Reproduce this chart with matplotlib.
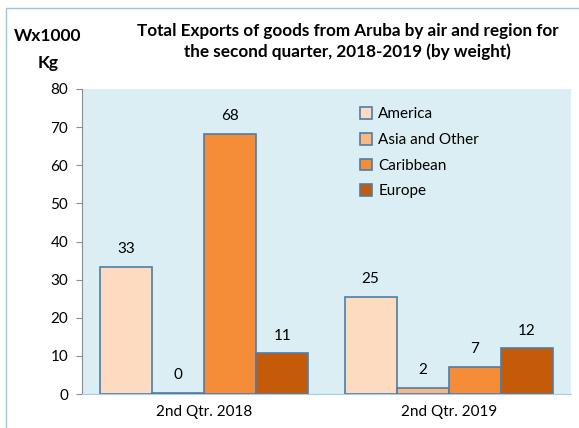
import numpy as np
import matplotlib.pyplot as plt
from matplotlib.patches import Rectangle

# data
quarters = ['2nd Qtr. 2018', '2nd Qtr. 2019']
regions = ['America', 'Asia and Other', 'Caribbean', 'Europe']
america = [33.3, 25.5]
asia_other = [0.3, 1.6]
caribbean = [68.3, 7.2]
europe = [10.7, 12.0]
labels = [['33', '25'], ['0', '2'], ['68', '7'], ['11', '12']]

colors = ['#FCDBC0', '#FAB784', '#F58D38', '#C55A09']
edge = '#4F7DA8'

plt.rcParams['font.family'] = ['Lato', 'DejaVu Sans']

fig = plt.figure(figsize=(5.79, 4.28), dpi=100)
ax = fig.add_axes([82 / 579, 1 - 394 / 428, 489 / 579, 305 / 428])
ax.set_facecolor('#DAEEF3')

# light blue frame round the figure
fig.patches.append(Rectangle((6 / 579, -0.05), 1.1, 1 - 8 / 428 + 0.05,
                             transform=fig.transFigure, fill=False,
                             edgecolor='#9DC3E6', linewidth=1))

x = np.arange(len(quarters))
w = 0.213
series = [america, asia_other, caribbean, europe]
for i, vals in enumerate(series):
    pos = x + (i - 1.5) * w
    ax.bar(pos, vals, width=w, color=colors[i], edgecolor=edge,
           linewidth=1.2, label=regions[i], zorder=3)
    for p, v, t in zip(pos, vals, labels[i]):
        ax.text(p, v + 2.8, t, ha='center', va='bottom', fontsize=11)

ax.set_xlim(-0.5, 1.5)
ax.set_ylim(0, 80)
ax.set_yticks(range(0, 81, 10))
ax.set_xticks(x)
ax.set_xticklabels(quarters, fontsize=11)
ax.tick_params(axis='y', labelsize=11, length=4, color='#8C8C8C', pad=6)
ax.tick_params(axis='x', length=0, pad=8)

for s in ['top', 'right']:
    ax.spines[s].set_visible(False)
ax.spines['left'].set_color('#8C8C8C')
ax.spines['bottom'].set_color('#A9CCE3')

ax.legend(loc='upper left', bbox_to_anchor=(0.54, 0.985), frameon=False,
          fontsize=11, handlelength=0.8, handleheight=0.8,
          handletextpad=0.4, labelspacing=0.75)

fig.text(0.083, 0.915, 'Wx1000', ha='center', va='center',
         fontsize=12.5, fontweight='bold')
fig.text(0.083, 0.852, 'Kg', ha='center', va='center',
         fontsize=12.5, fontweight='bold')
fig.text(0.6, 0.927, 'Total Exports of goods from Aruba by air and region for',
         ha='center', va='center', fontsize=12.3, fontweight='bold')
fig.text(0.6, 0.88, 'the second quarter, 2018-2019 (by weight)',
         ha='center', va='center', fontsize=12.3, fontweight='bold')

fig.savefig('out.png', dpi=100)
